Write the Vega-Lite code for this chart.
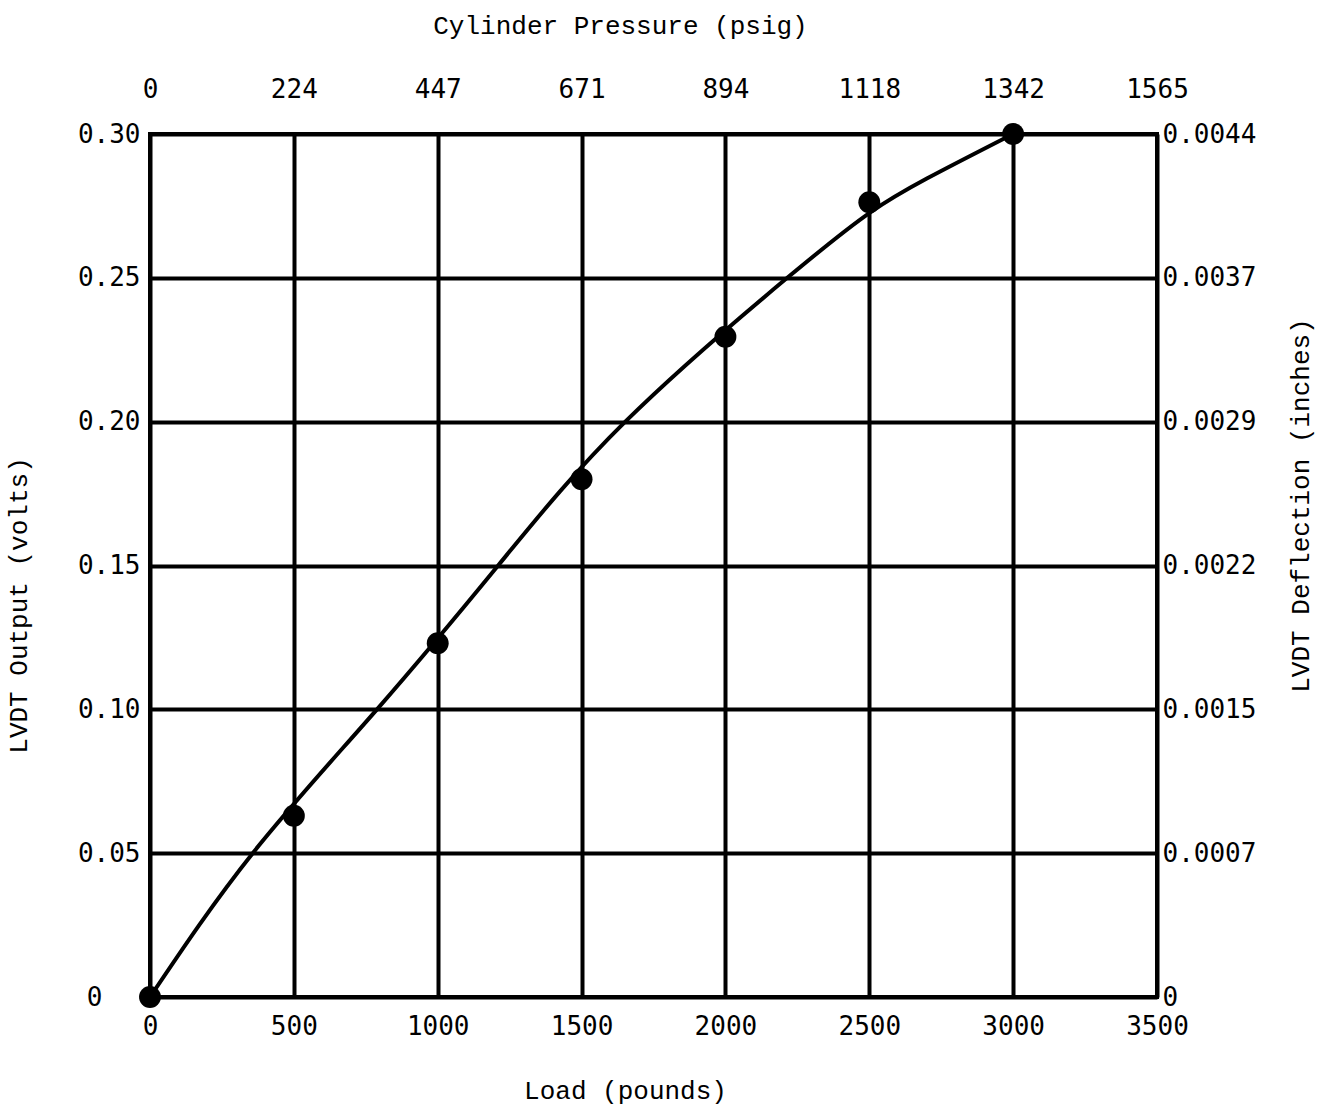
{
  "$schema": "https://vega.github.io/schema/vega-lite/v6.json",
  "width": 1007,
  "height": 863,
  "autosize": {"type": "none"},
  "padding": {"left": 150, "top": 134, "right": 162, "bottom": 112},
  "background": "white",
  "config": {
    "view": {"stroke": "black", "strokeWidth": 4},
    "axis": {
      "labelFont": "DejaVu Sans Mono",
      "labelFontSize": 26,
      "labelColor": "black",
      "titleFont": "Liberation Mono",
      "titleFontSize": 26,
      "titleFontWeight": "normal",
      "titleColor": "black",
      "titleAlign": "center",
      "titleBaseline": "middle",
      "domain": false,
      "ticks": false,
      "gridColor": "black",
      "gridWidth": 4,
      "gridOpacity": 1
    }
  },
  "datasets": {
    "curve": [
      {"load": 0, "volts": 0},
      {"load": 357, "volts": 0.05},
      {"load": 789, "volts": 0.1},
      {"load": 1210, "volts": 0.15},
      {"load": 1652, "volts": 0.2},
      {"load": 2215, "volts": 0.25},
      {"load": 2500, "volts": 0.2725},
      {"load": 2700, "volts": 0.2845},
      {"load": 3000, "volts": 0.3}
    ],
    "points": [
      {"load": 0, "volts": 0},
      {"load": 500, "volts": 0.063},
      {"load": 1000, "volts": 0.123},
      {"load": 1500, "volts": 0.18},
      {"load": 2000, "volts": 0.2295},
      {"load": 2500, "volts": 0.2763},
      {"load": 3000, "volts": 0.3}
    ]
  },
  "layer": [
    {
      "data": {"name": "curve"},
      "mark": {"type": "line", "color": "black", "strokeWidth": 4, "interpolate": "natural", "clip": false},
      "encoding": {
        "x": {
          "field": "load", "type": "quantitative",
          "scale": {"domain": [0, 3500], "nice": false},
          "axis": {
            "orient": "bottom", "title": "Load (pounds)",
            "values": [0, 500, 1000, 1500, 2000, 2500, 3000, 3500],
            "format": "d",
            "grid": true, "labelPadding": 16,
            "titleX": 475, "titleY": 93,
            "labelFlush": false, "labelOverlap": false
          }
        },
        "y": {
          "field": "volts", "type": "quantitative",
          "scale": {"domain": [0, 0.3], "nice": false},
          "axis": {
            "orient": "left", "title": "LVDT Output (volts)",
            "values": [0, 0.05, 0.1, 0.15, 0.2, 0.25, 0.3],
            "grid": true, "labelPadding": 10,
            "titleX": -132, "titleY": 471, "titleAngle": -90,
            "labelExpr": "datum.value == 0 ? '0\u2800\u2800' : format(datum.value, '.2f')",
            "labelFlush": false, "labelOverlap": false, "labelBaseline": "middle"
          }
        }
      }
    },
    {
      "data": {"name": "points"},
      "mark": {"type": "point", "filled": true, "color": "black", "opacity": 1, "size": 480, "clip": false},
      "encoding": {
        "x": {
          "field": "load", "type": "quantitative",
          "axis": {
            "orient": "top", "title": "Cylinder Pressure (psig)",
            "values": [0, 500, 1000, 1500, 2000, 2500, 3000, 3500],
            "grid": false, "labelPadding": 32,
            "titleX": 470, "titleY": -109,
            "labelExpr": "['0','224','447','671','894','1118','1342','1565'][round(datum.value / 500)]",
            "labelFlush": false, "labelOverlap": false
          }
        },
        "y": {
          "field": "volts", "type": "quantitative",
          "axis": {
            "orient": "right", "title": "LVDT Deflection (inches)",
            "values": [0, 0.05, 0.1, 0.15, 0.2, 0.25, 0.3],
            "grid": false, "labelPadding": 5,
            "titleX": 143, "titleY": 371, "titleAngle": -90,
            "labelExpr": "['0','0.0007','0.0015','0.0022','0.0029','0.0037','0.0044'][round(datum.value / 0.05)]",
            "labelFlush": false, "labelOverlap": false, "labelBaseline": "middle"
          }
        }
      }
    }
  ],
  "resolve": {"axis": {"x": "independent", "y": "independent"}}
}
